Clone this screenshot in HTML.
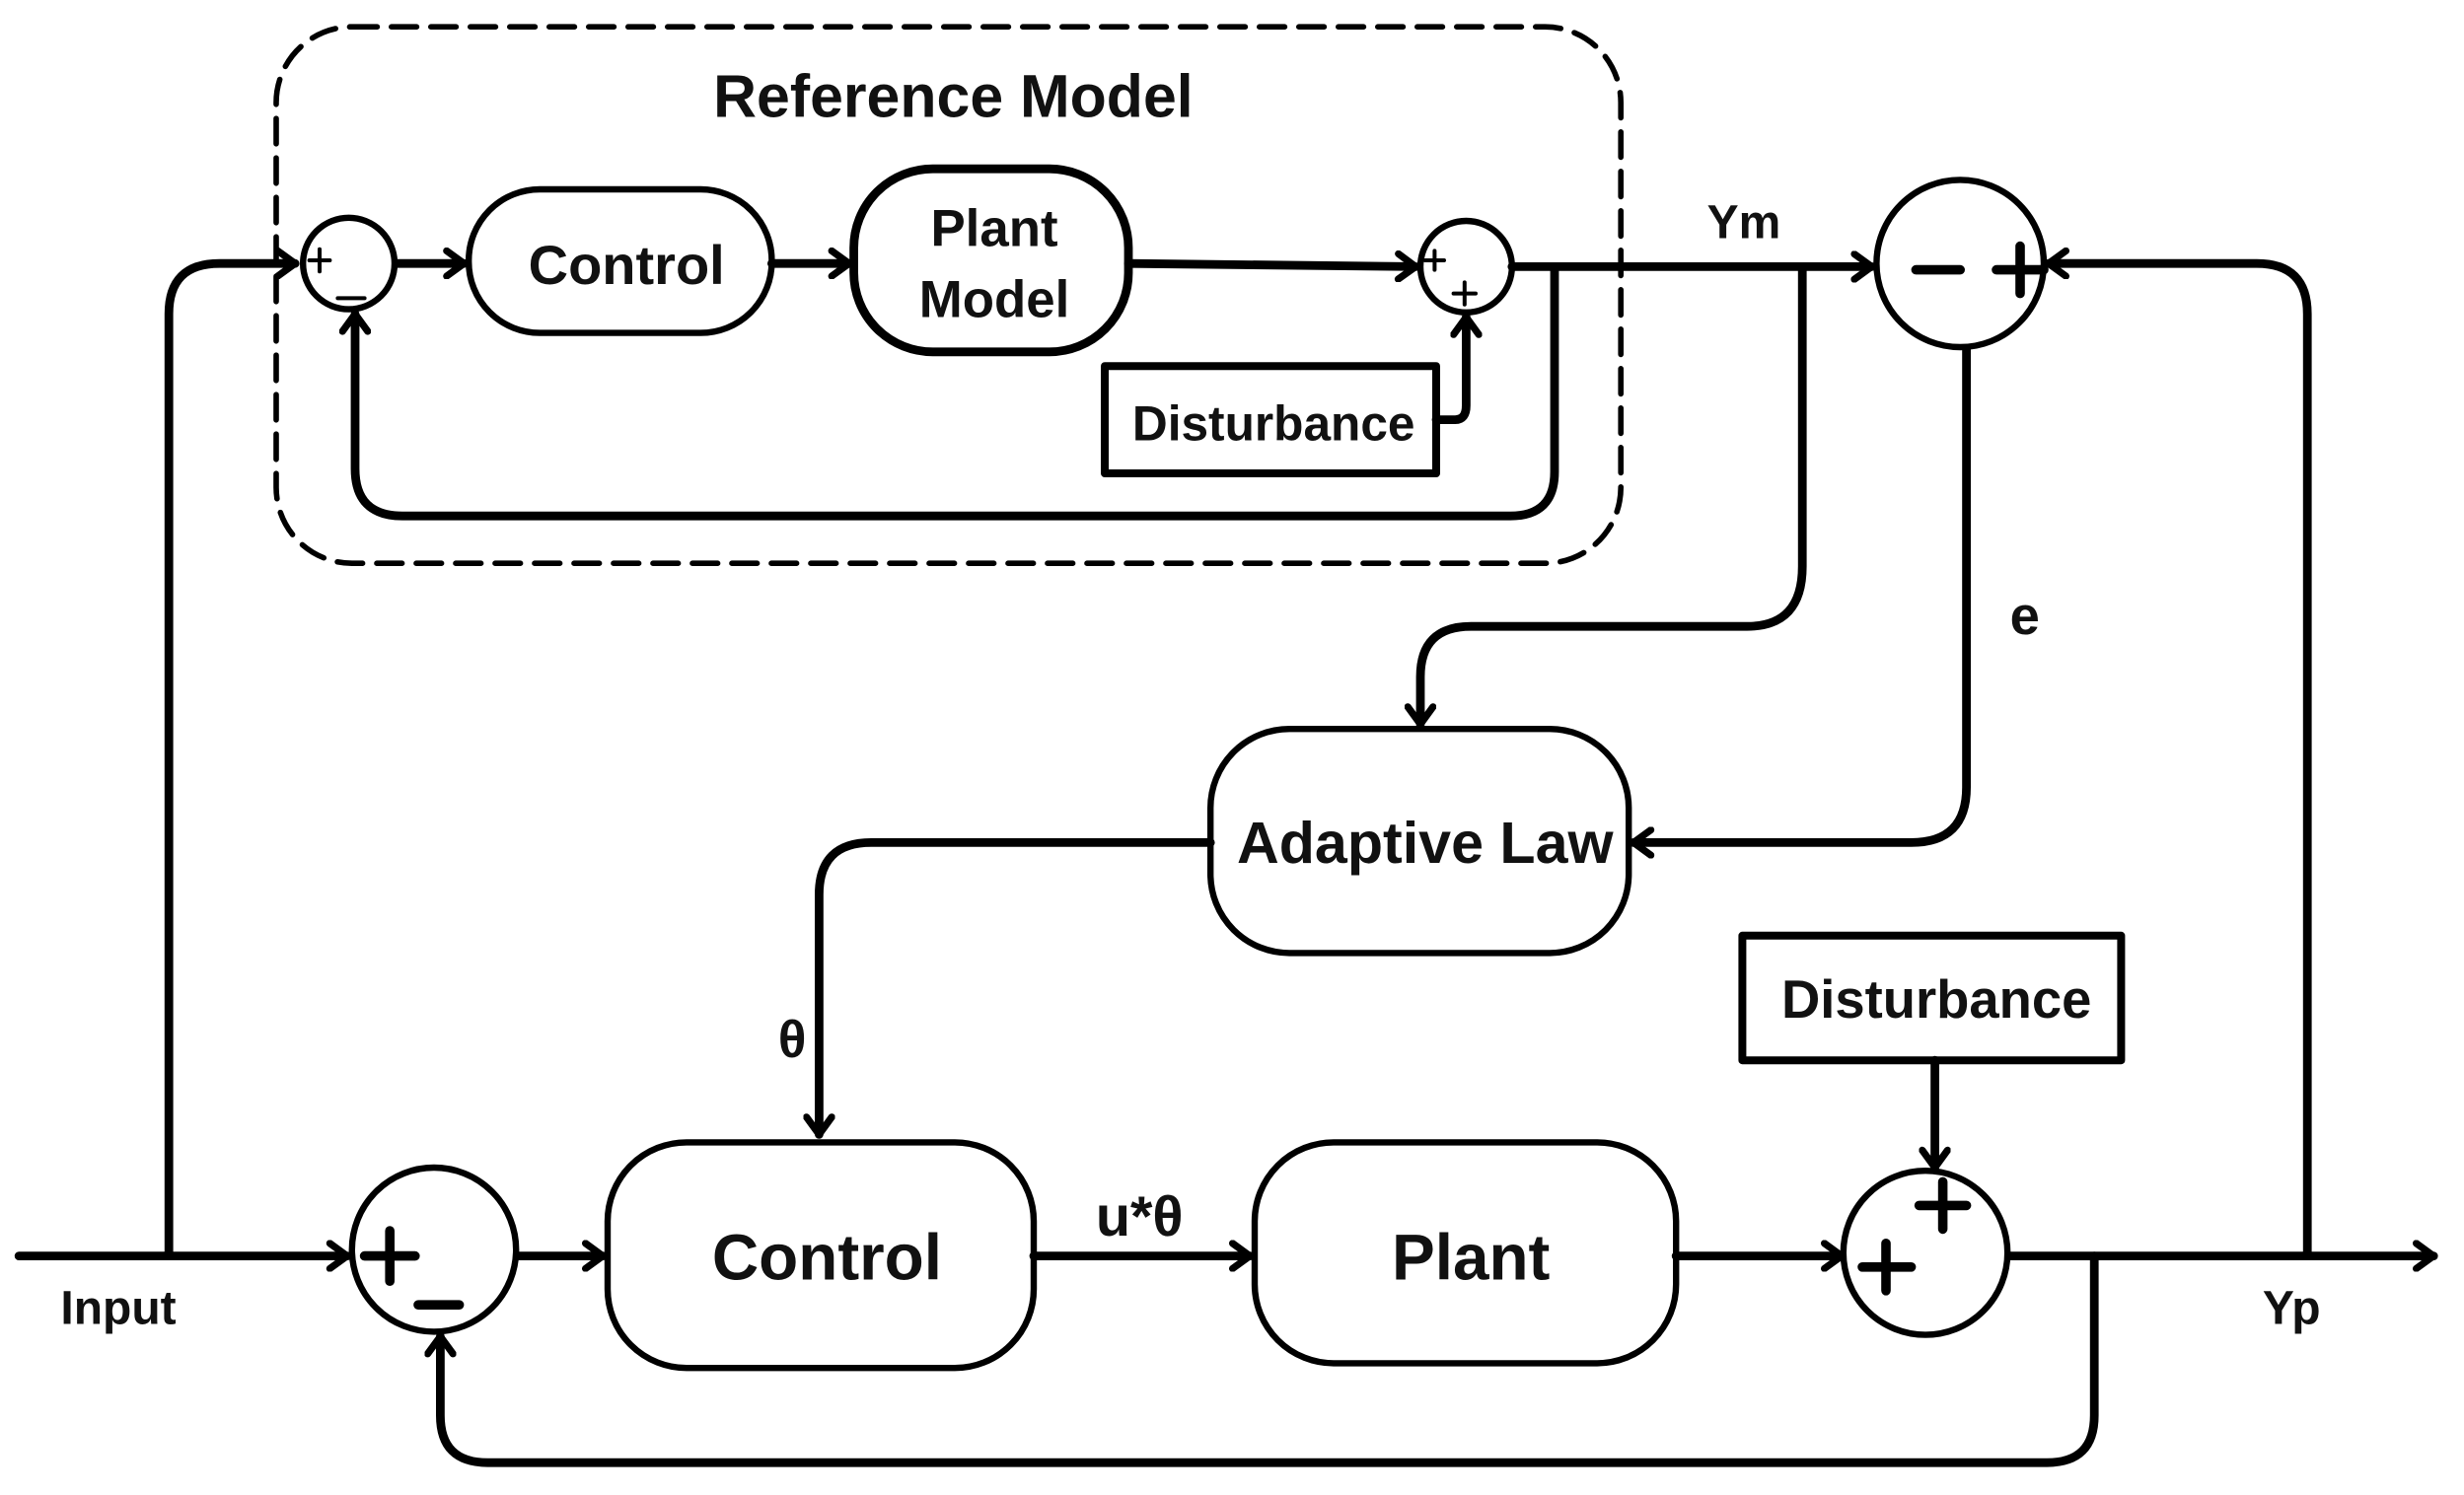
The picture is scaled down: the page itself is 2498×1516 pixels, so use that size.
<!DOCTYPE html>
<html><head><meta charset="utf-8"><style>
html,body{margin:0;padding:0;background:#fff}
svg{display:block}
text{font-family:"Liberation Sans","DejaVu Sans",sans-serif;font-weight:bold;fill:#111}
</style></head><body>
<svg width="2498" height="1516" viewBox="0 0 1561.25 947.5" preserveAspectRatio="none" xmlns="http://www.w3.org/2000/svg">
<defs>
<marker id="a" viewBox="0 0 20 20" refX="17" refY="10" markerWidth="20" markerHeight="20" markerUnits="userSpaceOnUse" orient="auto">
<polyline points="6,2 17,10 6,18" fill="none" stroke="#000" stroke-width="4.5" stroke-linecap="round" stroke-linejoin="round"/>
</marker>
</defs>
<g fill="none" stroke="#000" stroke-linecap="round" stroke-linejoin="round" transform="translate(-3,-1)">
<rect x="178" y="18" width="852" height="340" rx="48" stroke-width="3.5" stroke-dasharray="16,9"/>
<circle cx="224" cy="168" r="29" stroke-width="4"/>
<circle cx="932" cy="170" r="29" stroke-width="4"/>
<circle cx="1245" cy="168" r="53" stroke-width="4"/>
<circle cx="278" cy="793" r="52" stroke-width="4"/>
<circle cx="1223" cy="795" r="52" stroke-width="4"/>
<rect x="300" y="121" width="192" height="91" rx="45" stroke-width="4"/>
<rect x="544" y="108" width="174" height="116" rx="50" stroke-width="5.5"/>
<rect x="703" y="233" width="210" height="68" stroke-width="5"/>
<rect x="770" y="463" width="265" height="142" rx="50" stroke-width="4"/>
<rect x="1107" y="594" width="240" height="79" stroke-width="5"/>
<rect x="388" y="725" width="270" height="143" rx="50" stroke-width="4"/>
<rect x="798" y="725" width="267" height="140" rx="50" stroke-width="4"/>
<g stroke-width="5.5">
<path d="M254,168 H297" marker-end="url(#a)"/>
<path d="M492,168 H541" marker-end="url(#a)"/>
<path d="M718,168 L900,170" marker-end="url(#a)"/>
<path d="M913,267 H925 Q932,267 932,258 V202" marker-end="url(#a)"/>
<path d="M961,170 H1189" marker-end="url(#a)"/>
<path d="M988,170 V300 Q988,328 960,328 H258 Q228,328 228,298 V200" marker-end="url(#a)"/>
<path d="M1145,170 V360 Q1145,398 1110,398 H935 Q903,398 903,430 V460" marker-end="url(#a)"/>
<path d="M1249,222 V500 Q1249,535 1214,535 H1038" marker-end="url(#a)"/>
<path d="M770,535 H555 Q522,535 522,568 V720" marker-end="url(#a)"/>
<path d="M15,797 H223" marker-end="url(#a)"/>
<path d="M110,797 V200 Q110,168 142,168 H190" marker-end="url(#a)"/>
<path d="M331,797 H385" marker-end="url(#a)"/>
<path d="M658,797 H795" marker-end="url(#a)"/>
<path d="M1065,797 L1170,797" marker-end="url(#a)"/>
<path d="M1229,673 V741" marker-end="url(#a)"/>
<path d="M1276,797 H1545" marker-end="url(#a)"/>
<path d="M1465,797 V200 Q1465,168 1433,168 H1301" marker-end="url(#a)"/>
<path d="M1330,797 V898 Q1330,928 1300,928 H312 Q282,928 282,898 V848" marker-end="url(#a)"/>
</g>
<g stroke-width="6">
<path d="M1217,172 H1245 M1268,172 H1298 M1283,157 V187"/>
<path d="M234,797 H266 M250,781 V813 M268,828 H294"/>
<path d="M1183,804 H1214 M1198,789 V819 M1219,765 H1249 M1234,750 V780"/>
</g>
<g stroke-width="2.5">
<path d="M199,166 H212 M205.5,159 V173"/>
<path d="M217,190 H234"/>
<path d="M906,166 H918 M912,160 V172"/>
<path d="M924,187 H938 M931,180 V194"/>
</g>
</g>
<text x="604" y="74" font-size="38" text-anchor="middle">Reference Model</text>
<text x="397" y="180" font-size="35" text-anchor="middle">Control</text>
<text x="630" y="156" font-size="33" text-anchor="middle">Plant</text>
<text x="630" y="201" font-size="33" text-anchor="middle">Model</text>
<text x="807" y="279" font-size="31" text-anchor="middle">Disturbance</text>
<text x="1105" y="151" font-size="30" text-anchor="middle">Ym</text>
<text x="1283" y="402" font-size="34" text-anchor="middle">e</text>
<text x="903" y="547" font-size="37" text-anchor="middle">Adaptive Law</text>
<text x="502" y="670" font-size="33" text-anchor="middle">θ</text>
<text x="1227" y="645" font-size="34" text-anchor="middle">Disturbance</text>
<text x="524" y="811" font-size="41" text-anchor="middle">Control</text>
<text x="722" y="783" font-size="36" text-anchor="middle">u*θ</text>
<text x="932" y="811" font-size="41" text-anchor="middle">Plant</text>
<text x="75" y="839" font-size="30" text-anchor="middle">Input</text>
<text x="1452" y="839" font-size="30" text-anchor="middle">Yp</text>
</svg>
</body></html>
